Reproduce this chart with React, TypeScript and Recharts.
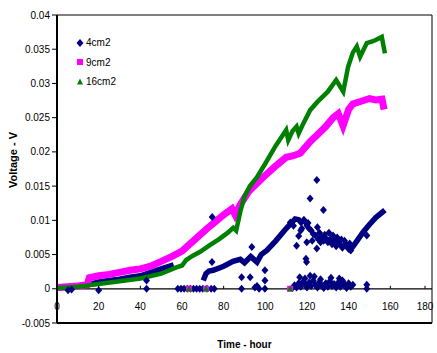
import {
  ComposedChart,
  Line,
  Scatter,
  XAxis,
  YAxis,
  ReferenceLine,
  ReferenceArea,
} from 'recharts';

const FONT = '"Liberation Sans", Arial, sans-serif';
const NAVY = '#000080';
const MAGENTA = '#FF00FF';
const GREEN = '#008000';

const W = 437;
const H = 353;
const TOP = 15;
const X_AXIS_H = 30;
const Y_MIN = -0.005;
const Y_MAX = 0.04;
// distance (px) from plot bottom up to the zero line
const ZERO_OFF = ((H - TOP - X_AXIS_H) * (0 - Y_MIN)) / (Y_MAX - Y_MIN);

const xTicks = [0, 20, 40, 60, 80, 100, 120, 140, 160, 180];
const yTicks = [-0.005, 0, 0.005, 0.01, 0.015, 0.02, 0.025, 0.03, 0.035, 0.04];
const seriesNames = ['4cm2', '9cm2', '16cm2'];

// 9cm2
const hours9 = [0, 5, 10, 14.5, 15.5, 20, 25, 30, 35, 40, 45, 50, 55, 60, 64, 68, 72, 76, 80, 84, 85.5, 88, 92, 96, 99, 103, 106, 110, 113, 116.7, 121.5, 125, 129, 132.5, 135, 137.3, 140, 142, 146, 150, 153, 156, 157];
const volts9 = [0.0002, 0.0003, 0.0004, 0.0006, 0.0016, 0.0019, 0.0021, 0.0024, 0.0027, 0.0029, 0.0033, 0.004, 0.0047, 0.0055, 0.0066, 0.0077, 0.0088, 0.0098, 0.0108, 0.0117, 0.0108, 0.0123, 0.0142, 0.0154, 0.0163, 0.0174, 0.0182, 0.0192, 0.0194, 0.0198, 0.0215, 0.0225, 0.0237, 0.025, 0.0256, 0.0238, 0.0262, 0.027, 0.0274, 0.0278, 0.0276, 0.0277, 0.0262];
const drops9: [number, number][] = [[63.4, 0], [71.5, 0], [111.9, 0]];

// 16cm2
const hours16 = [0, 10, 15, 20, 30, 40, 50, 57, 60, 62, 65, 68.7, 73, 78, 82, 84.6, 86, 88, 90, 92.6, 96, 100, 105, 110, 111, 113, 115, 116, 118, 121.5, 125, 130, 134, 137.4, 139.7, 142, 143.9, 145.5, 148.7, 152, 155.9, 157.4];
const volts16 = [0.0001, 0.0003, 0.0005, 0.0007, 0.0011, 0.0015, 0.0022, 0.0031, 0.0034, 0.0042, 0.0048, 0.0054, 0.0063, 0.0073, 0.0082, 0.0089, 0.0085, 0.0113, 0.0135, 0.015, 0.0163, 0.0183, 0.0209, 0.0232, 0.0217, 0.023, 0.0237, 0.0227, 0.024, 0.0261, 0.0273, 0.0288, 0.0305, 0.0288, 0.0324, 0.0345, 0.0354, 0.0339, 0.0359, 0.0362, 0.0368, 0.0344];
const drops16: [number, number][] = [[63.4, 0], [71.5, 0], [111.9, 0]];

// 4cm2 main trend (null = gap)
const hours4 = [0, 5, 10, 15, 20, 25, 30, 35, 40, 45, 50, 53, 56, 63, 70.2, 71.5, 73, 75, 80, 84.5, 88, 90, 93, 96, 98, 100.7, 105, 110, 114.3, 116, 118, 130, 141.4, 144, 147, 150, 153, 157.4];
const volts4 = [0.0001, 0.0002, 0.0004, 0.0006, 0.001, 0.0012, 0.0014, 0.0017, 0.0019, 0.0024, 0.0029, 0.0032, 0.0035, null, 0.0012, 0.0022, 0.0026, 0.0027, 0.0033, 0.004, 0.0043, 0.0038, 0.0047, 0.0039, 0.005, 0.0056, 0.007, 0.0088, 0.0102, 0.0101, 0.0094, null, 0.0059, 0.007, 0.0083, 0.0094, 0.0104, 0.0115];

// 4cm2 stray readings
const outliers4: [number, number][] = [
  [5.3, -0.0002], [7, -0.0001], [20, -0.0002], [43, 0], [43, 0.0012],
  [58, 0], [59.5, 0], [61, 0], [62.5, 0], [64, 0], [65.5, 0], [67, 0], [68.5, 0], [70, 0], [72, 0], [74, 0], [75.5, 0],
  [74.5, 0.0105], [74.4, 0.0039], [88.6, 0.0017], [88.6, 0], [92.7, 0.0017], [93.5, 0.0061], [95, 0.0002], [96, 0.0004], [97, 0],
  [99.8, 0.0027], [99.8, 0.0012], [99.8, 0],
  [115, 0.0063], [116, 0.0077], [117, 0.0085], [119.5, 0.0044], [119.8, 0.0039], [119.9, 0.0068], [121.5, 0.0132],
  [124.7, 0.0159], [124.7, 0.0059], [127.9, 0.0115], [148.7, 0.0078], [148.7, 0.0006], [148.7, 0],
];
const cluster4: [number, number][] = [
  [112, 0.0097], [113.5, 0.0092], [117.5, 0.0088], [118.5, 0.0101], [120.5, 0.0096],
  [119, 0.0098], [120, 0.0092], [121, 0.0088], [122, 0.0085], [122.5, 0.007], [123, 0.008], [124, 0.0078], [125, 0.009],
  [125.5, 0.0072], [126, 0.0082], [126.5, 0.0068], [127, 0.0076], [128, 0.007], [128.5, 0.0079], [129, 0.0074], [130, 0.0068],
  [130.5, 0.0082], [131, 0.0072], [132, 0.0065], [132.5, 0.0078], [133, 0.007], [134, 0.0062], [134.5, 0.0075], [135, 0.0068],
  [136, 0.0064], [136.5, 0.0072], [137, 0.006], [138, 0.007], [138.5, 0.0066], [139, 0.0062], [140, 0.0058], [140.5, 0.0066], [141, 0.0056],
];
const low4: [number, number][] = [
  [113, 0.0001], [114, 0.0005], [115, 0.0002], [116, 0.0008], [117, 0.0003], [118, 0.001], [119, 0.0015], [119.5, 0.0006],
  [120, 0.0002], [121, 0.0009], [122, 0.0004], [123, 0.0012], [124, 0.0006], [125, 0.0002], [126, 0.001], [127, 0.0005],
  [128, 0.0001], [129, 0.0008], [130, 0.0003], [131, 0.0011], [132, 0.0004], [133, 0.0007], [134, 0.0002], [135, 0.0009],
  [136, 0.0003], [137, 0.0012], [138, 0.0005], [139, 0.0001], [140, 0.0008], [141, 0.0003], [142, 0.0006],
  [116.5, 0.0017], [121.5, 0.0019], [123.5, 0.0018], [126.5, 0.0014], [131.5, 0.0016], [135.5, 0.0015], [137.5, 0.0009],
];

const toRows = (hs: number[], vs: (number | null)[]) => hs.map((h, i) => ({ h, v: vs[i] }));
const pairRows = (ps: [number, number][]) => ps.map(([h, v]) => ({ h, v }));

const data9 = toRows(hours9, volts9);
const data16 = toRows(hours16, volts16);
const data4 = toRows(hours4, volts4);
const scatter4 = pairRows([...outliers4, ...cluster4, ...low4]);

const Diamond = ({ cx, cy, fill }: any) => (
  <polygon points={`${cx},${cy - 4} ${cx + 3.5},${cy} ${cx},${cy + 4} ${cx - 3.5},${cy}`} fill={fill} />
);
const Square = ({ cx, cy, fill }: any) => <rect x={cx - 3} y={cy - 3} width={6} height={6} fill={fill} />;
const Triangle = ({ cx, cy, fill }: any) => (
  <polygon points={`${cx},${cy - 3.5} ${cx + 3},${cy + 2.5} ${cx - 3},${cy + 2.5}`} fill={fill} />
);

const legendIcons = [
  <Diamond cx={4} cy={4} fill={NAVY} />,
  <Square cx={4} cy={4} fill={MAGENTA} />,
  <Triangle cx={4} cy={4} fill={GREEN} />,
];

// legend sits inside the plot, top-left
const LegendBox = () => (
  <div style={{ position: 'absolute', left: 76, top: 33, fontFamily: FONT, fontSize: 10, color: '#000' }}>
    {seriesNames.map((name, i) => (
      <div key={name} style={{ display: 'flex', alignItems: 'center', height: 19.5 }}>
        <svg width={8} height={8}>{legendIcons[i]}</svg>
        <span style={{ marginLeft: 2 }}>{name}</span>
      </div>
    ))}
  </div>
);

const XTick = ({ x, y, payload }: any) => {
  const y0 = y - ZERO_OFF;
  return (
    <g>
      <line x1={x} x2={x} y1={y0 - 3} y2={y0} stroke="#000" />
      <text x={x} y={y0 + 21} textAnchor="middle" fontSize={10} fontFamily={FONT} fill="#000">
        {payload.value}
      </text>
    </g>
  );
};

const YTitle = ({ viewBox }: any) => {
  const cx = viewBox.x + 13;
  const cy = viewBox.y + viewBox.height / 2 - 9;
  return (
    <text
      x={cx}
      y={cy}
      transform={`rotate(-90 ${cx} ${cy})`}
      textAnchor="middle"
      dominantBaseline="central"
      fontSize={11}
      fontWeight="bold"
      fontFamily={FONT}
      fill="#000"
    >
      Voltage - V
    </text>
  );
};

const App = () => {
  return (
    <div style={{ position: 'absolute', left: 0, top: 0, width: W, height: H, background: '#fff' }}>
      <ComposedChart width={W} height={H} margin={{ top: TOP, right: 5, bottom: 0, left: 0 }}>
        <XAxis
          dataKey="h"
          type="number"
          domain={[0, 180]}
          ticks={xTicks}
          height={X_AXIS_H}
          tickSize={0}
          tickMargin={0}
          tick={<XTick />}
          axisLine={{ stroke: '#000', strokeWidth: 2 }}
          label={{
            value: 'Time - hour',
            position: 'insideBottom',
            offset: 5,
            style: { fontSize: 10, fontWeight: 'bold', fontFamily: FONT, fill: '#000' },
          }}
        />
        <YAxis
          type="number"
          domain={[Y_MIN, Y_MAX]}
          ticks={yTicks}
          width={57}
          tickSize={5}
          tickMargin={2}
          interval={0}
          tick={{ fontSize: 10, fontFamily: FONT, fill: '#000' }}
          tickLine={{ stroke: '#000' }}
          axisLine={{ stroke: '#000', strokeWidth: 2 }}
          label={<YTitle />}
        />
        <ReferenceArea x1={0} x2={180} y1={Y_MIN} y2={Y_MAX} fill="none" fillOpacity={0} stroke="#000" strokeWidth={1} />
        <ReferenceLine y={0} stroke="#000" strokeWidth={1.2} />
        <Line data={data4} dataKey="v" name={seriesNames[0]} stroke={NAVY} strokeWidth={5.5} dot={false} isAnimationActive={false} />
        <Line data={data9} dataKey="v" name={seriesNames[1]} stroke={MAGENTA} strokeWidth={7} dot={false} isAnimationActive={false} />
        <Line data={data16} dataKey="v" name={seriesNames[2]} stroke={GREEN} strokeWidth={4.5} dot={false} isAnimationActive={false} />
        <Scatter data={scatter4} dataKey="v" fill={NAVY} shape={<Diamond />} legendType="none" isAnimationActive={false} />
        <Scatter data={pairRows(drops9)} dataKey="v" fill={MAGENTA} shape={<Square />} legendType="none" isAnimationActive={false} />
        <Scatter data={pairRows(drops16)} dataKey="v" fill={GREEN} shape={<Triangle />} legendType="none" isAnimationActive={false} />
      </ComposedChart>
      <LegendBox />
    </div>
  );
};

export default App;
